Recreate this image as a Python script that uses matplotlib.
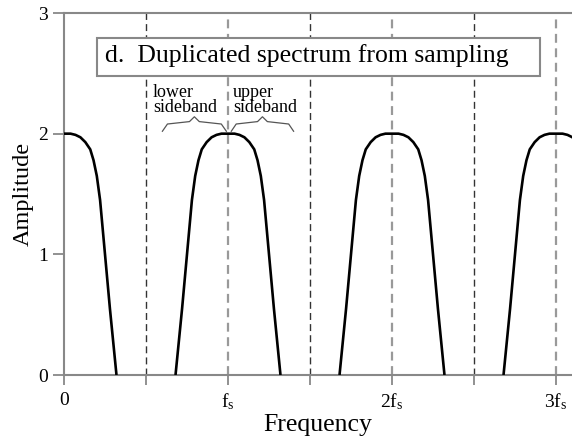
import matplotlib
matplotlib.use("Agg")
import matplotlib.pyplot as plt
import matplotlib.patches as mpatches
import numpy as np

plt.rcParams['font.family'] = ['Liberation Serif', 'DejaVu Serif']
plt.rcParams['mathtext.default'] = 'regular'

# Spectrum copies (centers, in units of fs)
centers = [0, 1, 2, 3]
# Half-profile of one spectrum copy: offset from center (fs units) and amplitude
half_offsets = [0.00, 0.04, 0.07, 0.10, 0.13, 0.16, 0.18, 0.20, 0.22, 0.25, 0.28, 0.32]
half_amps = [2.00, 2.00, 1.99, 1.97, 1.93, 1.87, 1.78, 1.65, 1.45, 1.00, 0.55, 0.00]

xtick_pos = [0, 0.5, 1, 1.5, 2, 2.5, 3]
xtick_labels = ['0', '', r'f$_s$', '', r'2f$_s$', '', r'3f$_s$']
ytick_pos = [0, 1, 2, 3]
dash_half = [0.5, 1.5, 2.5]
dash_full = [1, 2, 3]

title = 'd.  Duplicated spectrum from sampling'

fig = plt.figure(figsize=(5.72, 4.41), dpi=100)
ax = fig.add_axes([64/572, 66/441, 508/572, 362/441])
ax.set_xlim(0, 508/164)
ax.set_ylim(0, 3)

for xv in dash_half:
    ax.plot([xv, xv], [0, 3], color='#333333', lw=1.0, ls=(0, (5, 3)), zorder=1)
for xv in dash_full:
    ax.plot([xv, xv], [0, 3], color='#999999', lw=1.6, ls=(0, (4, 2.5)), zorder=1)

off = np.array(half_offsets)
amp = np.array(half_amps)
for c in centers:
    xs = np.concatenate([c - off[::-1], c + off[1:]])
    ys = np.concatenate([amp[::-1], amp[1:]])
    ax.plot(xs, ys, color='black', lw=1.9, zorder=3, solid_capstyle='butt')

# braces
def brace(x0, x1, y0, color='#555555'):
    w = x1 - x0
    xm = (x0 + x1) / 2
    bx = [x0, x0 + 0.03 * w / 0.38, xm - 0.03, xm, xm + 0.03, x1 - 0.03 * w / 0.38, x1]
    by = [y0, y0 + 0.06, y0 + 0.08, y0 + 0.12, y0 + 0.08, y0 + 0.06, y0]
    ax.plot(bx, by, color=color, lw=0.9, zorder=2)

brace(0.60, 0.99, 2.02)
brace(1.02, 1.40, 2.02)
ax.text(0.543, 2.415, 'lower\nsideband', fontsize=13, va='top', ha='left', linespacing=0.9)
ax.text(1.030, 2.415, 'upper\nsideband', fontsize=13, va='top', ha='left', linespacing=0.9)

box = mpatches.Rectangle((0.201, 2.480), 2.902 - 0.201, 2.795 - 2.480,
                         facecolor='white', edgecolor='#888888', lw=1.5, zorder=5)
ax.add_patch(box)
ax.text(0.25, 2.593, title, fontsize=18.5, va='baseline', ha='left', zorder=6)

for s in ['left', 'bottom', 'top']:
    ax.spines[s].set_color('#888888')
    ax.spines[s].set_linewidth(1.5)
ax.spines['right'].set_visible(False)

ax.set_xticks(xtick_pos)
ax.set_xticklabels(xtick_labels, fontsize=14)
ax.set_yticks(ytick_pos)
ax.set_yticklabels([str(v) for v in ytick_pos], fontsize=14)
ax.tick_params(axis='x', color='#888888', width=1.3, length=7.5, direction='out', pad=4.5)
ax.tick_params(axis='y', color='#888888', width=1.3, length=8, direction='out', pad=3.5)

ax.set_xlabel('Frequency', fontsize=18.5)
ax.xaxis.set_label_coords(0.5, -0.108)
ax.set_ylabel('Amplitude', fontsize=17.5)
ax.yaxis.set_label_coords(-0.059, 0.5)

fig.savefig('out.png', dpi=100)
